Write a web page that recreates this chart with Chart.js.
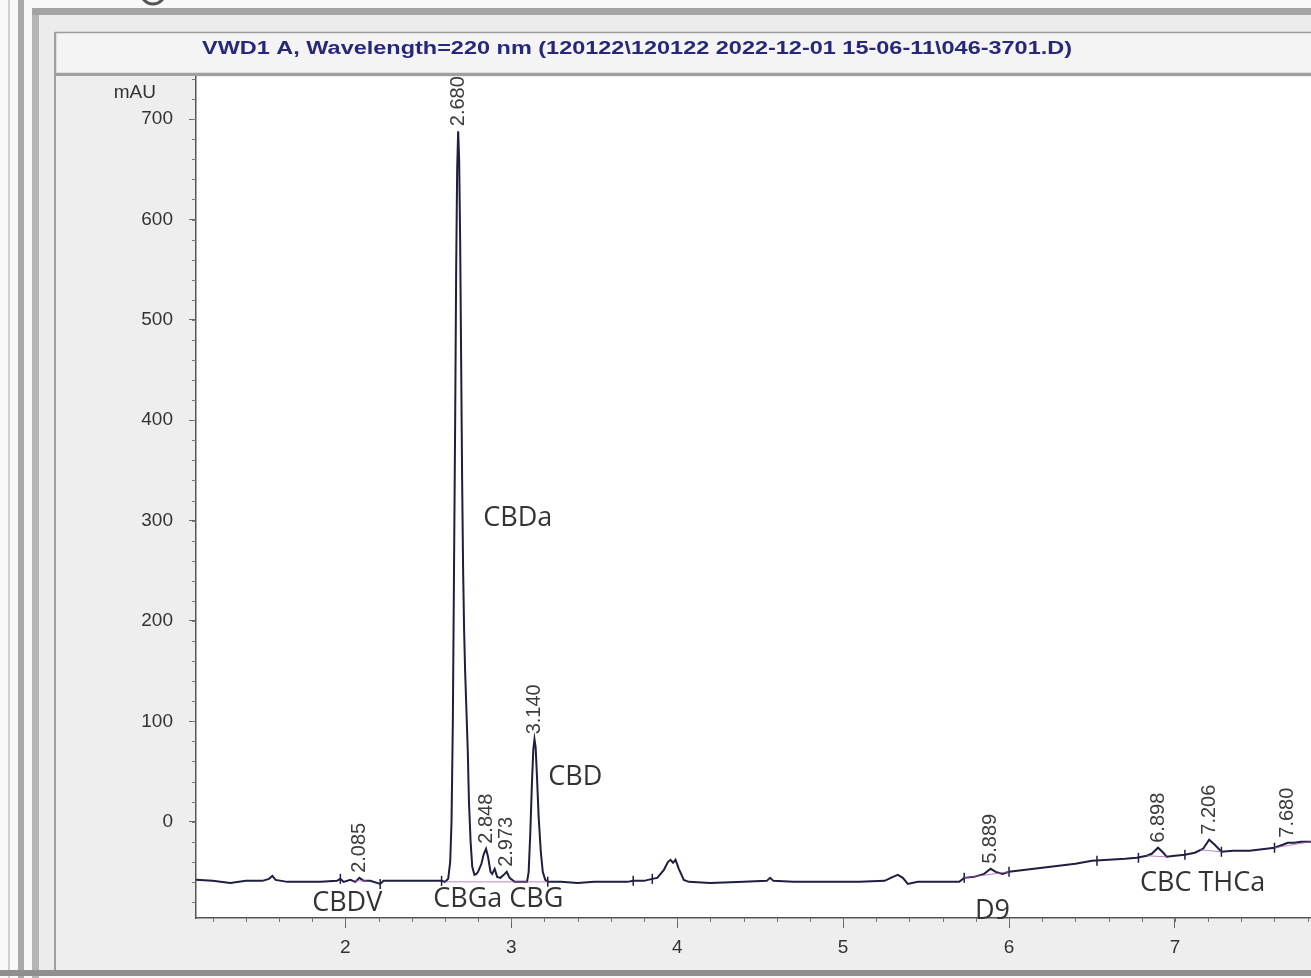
<!DOCTYPE html>
<html>
<head>
<meta charset="utf-8">
<script src="https://cdn.jsdelivr.net/npm/chart.js@4"></script>
<style>
  html, body { margin: 0; padding: 0; background: #f8f8f8; }
  canvas { display: block; }
</style>
</head>
<body>
<canvas id="chrom" width="1311" height="978"></canvas>
<script>
// signal trace, retention time (min) / absorbance (mAU)
const traceTimes = [
  1.100, 1.200, 1.307, 1.400, 1.500, 1.540, 1.560, 1.580, 1.650, 1.750, 1.850, 1.950, 1.970, 1.990,
  2.030, 2.060, 2.085, 2.110, 2.150, 2.210, 2.230, 2.350, 2.450, 2.580,
  2.600, 2.620, 2.632, 2.640, 2.648, 2.655, 2.662, 2.668, 2.674, 2.680, 2.686, 2.692, 2.698, 2.704,
  2.710, 2.716, 2.722, 2.730, 2.738, 2.745, 2.755, 2.765, 2.778, 2.790,
  2.800, 2.820, 2.835, 2.848, 2.860, 2.875, 2.885, 2.900, 2.915, 2.935, 2.955, 2.973, 2.990, 3.020, 3.070,
  3.095, 3.105, 3.115, 3.125, 3.133, 3.140, 3.147, 3.155, 3.165, 3.178, 3.190, 3.205, 3.220,
  3.300, 3.400, 3.500, 3.600, 3.700, 3.735, 3.800, 3.850, 3.880, 3.920, 3.945, 3.960, 3.975, 3.990,
  4.010, 4.040, 4.070, 4.200, 4.400, 4.540, 4.560, 4.580, 4.700, 4.900, 5.100, 5.250, 5.300, 5.330,
  5.360, 5.390, 5.450, 5.600, 5.700, 5.730, 5.790, 5.850, 5.889, 5.920, 5.960, 6.000,
  6.100, 6.200, 6.300, 6.400, 6.500, 6.600, 6.700, 6.770, 6.830, 6.860, 6.898, 6.930, 6.950,
  7.000, 7.060, 7.120, 7.170, 7.206, 7.240, 7.280, 7.350, 7.450, 7.550, 7.600, 7.650, 7.680,
  7.720, 7.760, 7.820
];
const traceValues = [
  -58, -59, -61, -59, -59, -57, -54, -58, -60, -60, -60, -59, -57, -60,
  -58, -60, -56, -59, -59, -62, -59, -59, -59, -59,
  -60, -57, -40, 0, 100, 250, 400, 550, 650, 688, 660, 580, 460, 340,
  250, 190, 150, 110, 70, 20, -20, -45, -53, -52,
  -50, -42, -32, -27, -35, -50, -52, -47, -55, -56, -53, -50, -56, -60, -60,
  -60, -50, -10, 40, 72, 82, 74, 45, 5, -30, -50, -58, -60,
  -60, -61, -60, -60, -60, -59, -59, -57, -56, -48, -40, -38, -41, -38,
  -47, -58, -60, -61, -60, -59, -56, -59, -60, -60, -60, -59, -55, -53,
  -56, -62, -60, -60, -60, -56, -55, -52, -47, -50, -52, -50,
  -48, -46, -44, -42, -39, -38, -37, -36, -34, -32, -26, -31, -35,
  -34, -33, -31, -27, -18, -23, -30, -29, -29, -27, -26, -23, -21,
  -21, -20, -20
];

// integration baselines (null = gap)
const baseTimes  = [2.05, 2.13, null, 2.60, 3.22, null, 5.73, 6.00, null, 6.83, 6.95, null, 7.15, 7.28, null, 7.60, 7.82];
const baseValues = [-59, -59, null, -60, -60, null, -56, -50, null, -34, -35, null, -28, -30, null, -26, -20];

// peak start / stop marks
const eventTimes  = [1.97, 2.21, 2.58, 3.22, 3.735, 3.85, 5.73, 6.00, 6.53, 6.78, 7.06, 7.28, 7.60];
const eventValues = [-57, -62, -59, -60, -59, -57, -56, -50, -39, -36, -33, -30, -26];

// peak labels
const peakTimes   = [2.085, 2.680, 2.848, 2.973, 3.140, 5.889, 6.898, 7.206, 7.680];
const peakHeights = [-56, 688, -27, -50, 82, -47, -26, -18, -21];
const peakLabels  = ['2.085', '2.680', '2.848', '2.973', '3.140', '5.889', '6.898', '7.206', '7.680'];

// compound names (left edge time, centre value)
const compoundNames = ['CBDa', 'CBD', 'CBDV', 'CBGa CBG', 'D9', 'CBC THCa'];
const compoundTimes = [2.831, 3.223, 1.80, 2.53, 5.795, 6.789];
const compoundLevel = [302, 44, -81, -77, -89, -61];

const xTicks = [2, 3, 4, 5, 6, 7];
const yTicks = [0, 100, 200, 300, 400, 500, 600, 700];

const titleText = 'VWD1 A, Wavelength=220 nm (120122\\120122 2022-12-01 15-06-11\\046-3701.D)';

const toPoints = (xs, ys) => xs.map((x, i) => ({ x: x, y: ys[i] }));

const framePlugin = {
  id: 'frame',
  beforeDraw(chart) {
    const c = chart.ctx, a = chart.chartArea, W = chart.width, H = chart.height;
    c.save();
    c.fillStyle = '#f8f8f8'; c.fillRect(0, 0, W, H);
    c.fillStyle = '#cfcfcf'; c.fillRect(8, 0, 2, H);
    c.fillStyle = '#a9a9a9'; c.fillRect(18, 0, 6, H);
    c.fillStyle = '#b5b5b5'; c.fillRect(32, 8, 7, H);
    c.fillStyle = '#a3a3a3'; c.fillRect(32, 8, W, 7);
    c.fillStyle = '#ececec'; c.fillRect(39, 15, W, H - 22);
    // title box
    c.fillStyle = '#f4f4f4'; c.fillRect(55, 32, W, 42);
    c.strokeStyle = '#9c9c9c'; c.lineWidth = 1.5;
    c.strokeRect(55.5, 32.5, W, 41);
    // plot panel
    c.fillStyle = '#eeeeee'; c.fillRect(55, 74, W, 896);
    c.fillStyle = '#a0a0a0'; c.fillRect(55, 73, W, 3);
    c.fillRect(54, 32, 2, 940);
    // white plot area
    c.fillStyle = '#ffffff'; c.fillRect(a.left, a.top, a.right - a.left, a.bottom - a.top);
    // bottom edge
    c.fillStyle = '#8f8f8f'; c.fillRect(0, 970, W, 6);
    // partial icon at top
    c.strokeStyle = '#555'; c.lineWidth = 3;
    c.beginPath(); c.arc(153, -8, 12, 0, Math.PI); c.stroke();
    c.restore();
  },
  afterDraw(chart) {
    const c = chart.ctx, a = chart.chartArea;
    const xs = chart.scales.x, ys = chart.scales.y;
    c.save();
    // minor ticks
    c.strokeStyle = '#777'; c.lineWidth = 1;
    for (let v = 1.2; v < xs.max; v += 0.2) {
      const px = Math.round(xs.getPixelForValue(v)) + 0.5;
      c.beginPath(); c.moveTo(px, a.bottom); c.lineTo(px, a.bottom + 4); c.stroke();
    }
    for (let v = -80; v < ys.max; v += 20) {
      const py = Math.round(ys.getPixelForValue(v)) + 0.5;
      c.beginPath(); c.moveTo(a.left - 4, py); c.lineTo(a.left, py); c.stroke();
    }
    // title
    c.font = 'bold 18px Arial, "Liberation Sans", sans-serif';
    c.fillStyle = '#28287a';
    c.textBaseline = 'middle';
    const tw = c.measureText(titleText).width;
    c.save();
    c.translate(202, 49);
    c.scale(870 / tw, 1);
    c.fillText(titleText, 0, 0);
    c.restore();
    // unit
    c.font = '19px Arial, "Liberation Sans", sans-serif';
    c.fillStyle = '#333';
    c.textAlign = 'right';
    c.fillText('mAU', 156, 93);
    // retention time labels
    c.font = '20px Arial, "Liberation Sans", sans-serif';
    c.fillStyle = '#3c3c3c';
    c.textAlign = 'left';
    peakTimes.forEach((t, i) => {
      const px = xs.getPixelForValue(t);
      const py = ys.getPixelForValue(peakHeights[i]) - 5;
      c.save();
      c.translate(px, py);
      c.rotate(-Math.PI / 2);
      c.fillText(peakLabels[i], 0, 0);
      c.restore();
    });
    // compound names
    c.font = '27px "Open Sans", sans-serif';
    c.fillStyle = '#333';
    compoundNames.forEach((n, i) => {
      c.fillText(n, xs.getPixelForValue(compoundTimes[i]), ys.getPixelForValue(compoundLevel[i]));
    });
    c.restore();
  }
};

const ctx = document.getElementById('chrom');
const chrom = new Chart(ctx, {
  type: 'scatter',
  data: {
    datasets: [
      {
        label: 'baseline',
        data: toPoints(baseTimes, baseValues),
        showLine: true,
        spanGaps: false,
        borderColor: 'rgba(170, 90, 180, 0.75)',
        borderWidth: 1,
        pointRadius: 0
      },
      {
        label: 'VWD1 A',
        data: toPoints(traceTimes, traceValues),
        showLine: true,
        borderColor: '#1e1e40',
        borderWidth: 2,
        pointRadius: 0,
        tension: 0
      },
      {
        label: 'events',
        data: toPoints(eventTimes, eventValues),
        showLine: false,
        pointStyle: 'line',
        rotation: 90,
        pointRadius: 5,
        borderColor: '#1e1e40',
        borderWidth: 1.5
      }
    ]
  },
  options: {
    responsive: false,
    animation: false,
    devicePixelRatio: 1,
    layout: { autoPadding: false, padding: { top: 77, left: 0, right: 0, bottom: 0 } },
    plugins: { legend: { display: false }, tooltip: { enabled: false } },
    scales: {
      x: {
        type: 'linear',
        min: 1.1,
        max: 7.82,
        afterBuildTicks: (s) => { s.ticks = xTicks.map(v => ({ value: v })); },
        afterFit: (s) => { s.height = 60; s.paddingLeft = 0; s.paddingRight = 0; },
        grid: { drawOnChartArea: false, drawTicks: true, tickLength: 10, color: '#666' },
        border: { color: '#555', width: 1.5 },
        ticks: { color: '#333', padding: 8, font: { family: 'Arial, "Liberation Sans", sans-serif', size: 19 } }
      },
      y: {
        min: -96,
        max: 742,
        afterBuildTicks: (s) => { s.ticks = yTicks.map(v => ({ value: v })); },
        afterFit: (s) => { s.width = 196; s.paddingTop = 0; s.paddingBottom = 0; },
        grid: { drawOnChartArea: false, drawTicks: true, tickLength: 7, color: '#666' },
        border: { color: '#555', width: 1.5 },
        ticks: { color: '#333', padding: 16, font: { family: 'Arial, "Liberation Sans", sans-serif', size: 19 } }
      }
    }
  },
  plugins: [framePlugin]
});
</script>
</body>
</html>
